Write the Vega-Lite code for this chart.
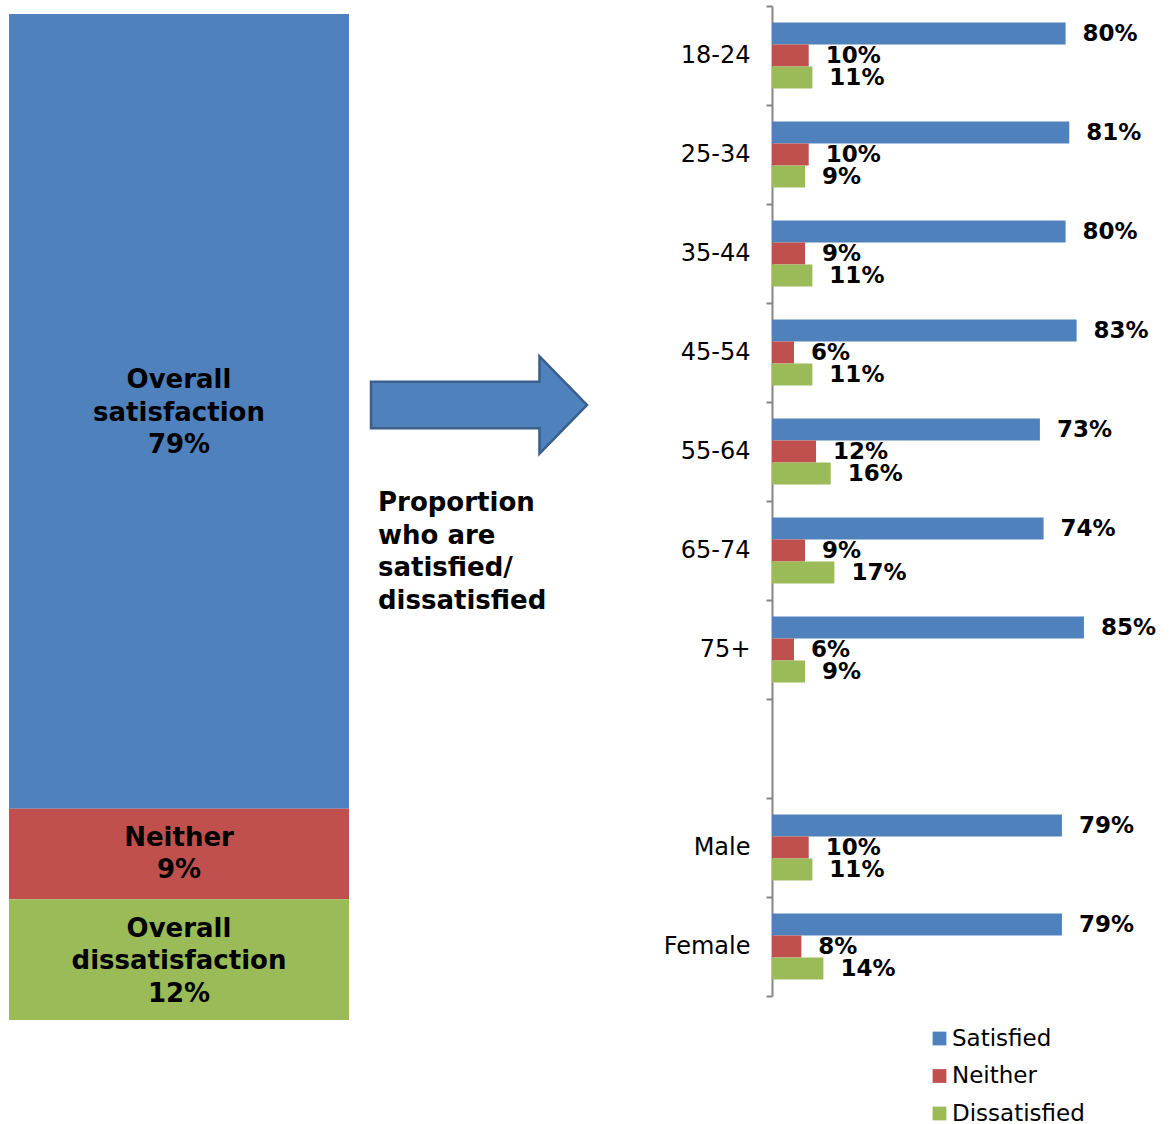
{
  "$schema": "https://vega.github.io/schema/vega-lite/v6.json",
  "padding": {"left": 9, "top": -6, "right": 0, "bottom": 0},
  "background": "white",
  "spacing": 17,
  "config": {"view": {"stroke": null}, "font": "DejaVu Sans"},
  "resolve": {"scale": {"color": "independent", "x": "independent", "y": "independent"}, "legend": {"color": "independent"}},
  "hconcat": [
    {
      "width": 340,
      "height": 1014,
      "data": {"values": [
        {"cat": "Satisfied", "share": 0.79, "label": "Overall\nsatisfaction\n79%"},
        {"cat": "Neither", "share": 0.09, "label": "Neither\n9%"},
        {"cat": "Dissatisfied", "share": 0.12, "label": "Overall\ndissatisfaction\n12%"}
      ]},
      "transform": [
        {"stack": "share", "groupby": [], "sort": [{"field": "cat", "order": "ascending"}], "as": ["y0", "y1"]},
        {"calculate": "(datum.y0 + datum.y1) / 2", "as": "mid"}
      ],
      "encoding": {
        "x": {"datum": "all", "type": "nominal", "axis": null, "scale": {"paddingInner": 0, "paddingOuter": 0}},
        "y": {"field": "mid", "type": "quantitative", "axis": null, "scale": {"domain": [0, 1.008], "nice": false, "zero": true}}
      },
      "layer": [
        {
          "mark": {"type": "bar"},
          "encoding": {
            "y": {"field": "y0", "type": "quantitative", "axis": null, "scale": {"domain": [0, 1.008], "nice": false, "zero": true}},
            "y2": {"field": "y1"},
            "color": {"field": "cat", "type": "nominal", "legend": null, "scale": {"domain": ["Satisfied", "Neither", "Dissatisfied"], "range": ["#4f81bd", "#c0504d", "#9bbb59"]}}
          }
        },
        {
          "transform": [{"filter": "datum.cat != 'Neither'"}],
          "mark": {"type": "text", "fontSize": 26, "fontWeight": "bold", "lineBreak": "\n", "lineHeight": 32.5, "baseline": "middle", "align": "center", "dy": -31, "color": "#000000"},
          "encoding": {"text": {"field": "label"}}
        },
        {
          "transform": [{"filter": "datum.cat == 'Neither'"}],
          "mark": {"type": "text", "fontSize": 26, "fontWeight": "bold", "lineBreak": "\n", "lineHeight": 32.5, "baseline": "middle", "align": "center", "dy": -16.25, "color": "#000000"},
          "encoding": {"text": {"field": "label"}}
        }
      ]
    },
    {
      "width": 280,
      "height": 798,
      "data": {"values": [{"note": "Proportion\nwho are\nsatisfied/\ndissatisfied"}]},
      "layer": [
        {
          "mark": {"type": "point", "shape": "M-1,-0.215L0.56,-0.215L0.56,-0.45L1,0L0.56,0.45L0.56,0.215L-1,0.215Z", "size": 46656, "filled": true, "fill": "#4f81bd", "stroke": "#3a5f8b", "strokeWidth": 2.5, "opacity": 1, "fillOpacity": 1, "xOffset": -27},
          "encoding": {}
        },
        {
          "mark": {"type": "text", "fontSize": 26, "fontWeight": "bold", "lineBreak": "\n", "lineHeight": 32.5, "align": "left", "baseline": "middle", "dx": -128, "dy": 98, "color": "#000000"},
          "encoding": {"text": {"field": "note"}}
        }
      ]
    },
    {
      "width": 367,
      "height": 990,
      "data": {"values": [
        {"group": "18-24", "cat": "Satisfied", "share": 0.80},
        {"group": "18-24", "cat": "Neither", "share": 0.10},
        {"group": "18-24", "cat": "Dissatisfied", "share": 0.11},
        {"group": "25-34", "cat": "Satisfied", "share": 0.81},
        {"group": "25-34", "cat": "Neither", "share": 0.10},
        {"group": "25-34", "cat": "Dissatisfied", "share": 0.09},
        {"group": "35-44", "cat": "Satisfied", "share": 0.80},
        {"group": "35-44", "cat": "Neither", "share": 0.09},
        {"group": "35-44", "cat": "Dissatisfied", "share": 0.11},
        {"group": "45-54", "cat": "Satisfied", "share": 0.83},
        {"group": "45-54", "cat": "Neither", "share": 0.06},
        {"group": "45-54", "cat": "Dissatisfied", "share": 0.11},
        {"group": "55-64", "cat": "Satisfied", "share": 0.73},
        {"group": "55-64", "cat": "Neither", "share": 0.12},
        {"group": "55-64", "cat": "Dissatisfied", "share": 0.16},
        {"group": "65-74", "cat": "Satisfied", "share": 0.74},
        {"group": "65-74", "cat": "Neither", "share": 0.09},
        {"group": "65-74", "cat": "Dissatisfied", "share": 0.17},
        {"group": "75+", "cat": "Satisfied", "share": 0.85},
        {"group": "75+", "cat": "Neither", "share": 0.06},
        {"group": "75+", "cat": "Dissatisfied", "share": 0.09},
        {"group": "Male", "cat": "Satisfied", "share": 0.79},
        {"group": "Male", "cat": "Neither", "share": 0.10},
        {"group": "Male", "cat": "Dissatisfied", "share": 0.11},
        {"group": "Female", "cat": "Satisfied", "share": 0.79},
        {"group": "Female", "cat": "Neither", "share": 0.08},
        {"group": "Female", "cat": "Dissatisfied", "share": 0.14}
      ]},
      "encoding": {
        "y": {
          "field": "group", "type": "nominal",
          "scale": {"domain": ["18-24", "25-34", "35-44", "45-54", "55-64", "65-74", "75+", " ", "Male", "Female"], "paddingInner": 0, "paddingOuter": 0},
          "axis": {"title": null, "domainColor": "#868686", "domainWidth": 2, "tickColor": "#868686", "tickWidth": 2, "tickSize": 6, "tickBand": "extent", "labelFontSize": 24, "labelColor": "#000000", "labelPadding": 16, "grid": false}
        },
        "yOffset": {"field": "cat", "type": "nominal", "scale": {"domain": ["Satisfied", "Neither", "Dissatisfied"], "paddingInner": 0, "paddingOuter": 0.75}},
        "x": {"field": "share", "type": "quantitative", "scale": {"domain": [0, 1], "nice": false}, "axis": null}
      },
      "layer": [
        {
          "mark": {"type": "bar"},
          "encoding": {
            "color": {
              "field": "cat", "type": "nominal",
              "scale": {"domain": ["Satisfied", "Neither", "Dissatisfied"], "range": ["#4f81bd", "#c0504d", "#9bbb59"]},
              "legend": {"orient": "none", "legendX": 156, "legendY": 1021, "direction": "vertical", "title": null, "labelFontSize": 23, "labelColor": "#000000", "symbolType": "square", "symbolSize": 190, "symbolStrokeWidth": 0, "rowPadding": 13.5, "labelOffset": 1, "padding": 0}
            }
          }
        },
        {
          "mark": {"type": "text", "align": "left", "baseline": "middle", "dx": 17, "fontSize": 23, "fontWeight": "bold", "color": "#000000"},
          "encoding": {"text": {"field": "share", "type": "quantitative", "format": ".0%"}}
        }
      ]
    }
  ]
}
